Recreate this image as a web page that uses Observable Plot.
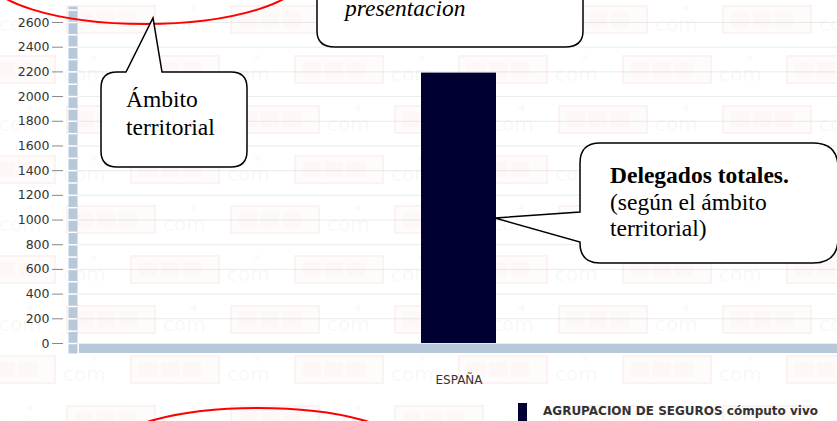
<!DOCTYPE html>
<html>
<head>
<meta charset="utf-8">
<script src="https://cdn.jsdelivr.net/npm/d3@7"></script>
<script src="https://cdn.jsdelivr.net/npm/@observablehq/plot@0.6"></script>
<style>
  html, body { margin: 0; padding: 0; background: white; }
  #wrap { position: relative; width: 837px; height: 421px; overflow: hidden; }
  #bg { position: absolute; left: 0; top: 0; width: 837px; height: 421px; opacity: 0.28; }
  #chart { position: absolute; left: 0; top: 0; }
  #overlay { position: absolute; left: 0; top: 0; }
  #legend { position: absolute; left: 518px; top: 403px; display: flex; align-items: flex-start;
            font-family: "DejaVu Sans", Verdana, sans-serif; font-weight: bold; font-size: 12px; color: #333; }
  #legend .sw { width: 9px; height: 18px; background: #000033; margin-right: 16px; }
  #legend .tx { margin-top: 1px; white-space: nowrap; }
</style>
</head>
<body>
<div id="wrap">
  <div id="bg"></div>
  <div id="chart"></div>
  <svg id="overlay" width="837" height="421" xmlns="http://www.w3.org/2000/svg">
    <ellipse cx="145" cy="-26" rx="160" ry="50" fill="none" stroke="#ff0000" stroke-width="2"/>
    <ellipse cx="258" cy="448" rx="146" ry="40" fill="none" stroke="#ff0000" stroke-width="2"/>
    <path d="M317,-10 L317,31 Q317,47 335,47 L565,47 Q583,47 583,31 L583,-10 Z" fill="white" stroke="black" stroke-width="1.5"/>
    <text x="345" y="16" font-family="Liberation Serif, Times New Roman, serif" font-style="italic" font-size="23.5">presentacion</text>
    <path d="M117,72 L126,72 L153,18 L162,72 L231,72 Q247,72 247,88 L247,151 Q247,167 231,167 L117,167 Q101,167 101,151 L101,88 Q101,72 117,72 Z" fill="white" stroke="black" stroke-width="1.5"/>
    <text font-family="Liberation Serif, Times New Roman, serif" font-size="23.5">
      <tspan x="126" y="107">Ámbito</tspan>
      <tspan x="126" y="135">territorial</tspan>
    </text>
    <path d="M600,143 L813,143 Q838,143 838,168 L838,238 Q838,263 813,263 L600,263 Q580,263 580,243 L580,242 L495,218 L580,212 L580,163 Q580,143 600,143 Z" fill="white" stroke="black" stroke-width="1.5"/>
    <text font-family="Liberation Serif, Times New Roman, serif" font-size="23.5">
      <tspan x="610" y="183" font-weight="bold">Delegados totales.</tspan>
      <tspan x="610" y="210">(según el ámbito</tspan>
      <tspan x="610" y="236">territorial)</tspan>
    </text>
  </svg>
  <div id="legend"><div class="sw"></div><div class="tx">AGRUPACION DE SEGUROS cómputo vivo</div></div>
</div>
<script>
// ---- data ----
const categories = ["ESPAÑA"];
const delegados = [2190];
const yTicks = [0, 200, 400, 600, 800, 1000, 1200, 1400, 1600, 1800, 2000, 2200, 2400, 2600];
const minorTicks = [0, 100, 200, 300, 400, 500, 600, 700, 800, 900, 1000, 1100, 1200, 1300,
                    1400, 1500, 1600, 1700, 1800, 1900, 2000, 2100, 2200, 2300, 2400, 2500, 2600, 2700];
const seriesName = "AGRUPACION DE SEGUROS cómputo vivo";

const table = categories.map((c, i) => ({ambito: c, delegados: delegados[i]}));

// ---- faint watermark background ----
const unit = (dx, dy) => `
  <g transform='translate(${dx},${dy})'>
    <text x='4' y='31' font-family='DejaVu Sans' font-size='20' fill='#e6e6e6'>com</text>
    <path d='M30 8 l8 -4 l-2 8 z' fill='#eeeeee'/>
    <rect x='72' y='6' width='88' height='27' fill='#fdf2f2' stroke='#f6d2d2' stroke-width='2'/>
    <rect x='80' y='12' width='18' height='15' fill='#fbe2e2'/>
    <rect x='102' y='12' width='18' height='15' fill='#fbe2e2'/>
    <rect x='124' y='12' width='18' height='15' fill='#fbe2e2'/>
  </g>`;
const tile = `<svg xmlns='http://www.w3.org/2000/svg' width='164' height='100'>${unit(0,0)}${unit(64,50)}${unit(-100,50)}</svg>`;
const bg = document.getElementById("bg");
bg.style.backgroundImage = `url("data:image/svg+xml,${encodeURIComponent(tile)}")`;
bg.style.backgroundPosition = "-5px 0px";

// ---- chart ----
const axisColor = "#b7c8da";
const chart = Plot.plot({
  width: 837,
  height: 421,
  marginTop: 6,
  marginBottom: 68,
  marginLeft: 72,
  marginRight: 0,
  style: {background: "transparent", fontFamily: "DejaVu Sans, Verdana, sans-serif", fontSize: "12px", color: "#333", overflow: "visible"},
  x: {domain: categories, range: [79, 837], padding: 0.82, label: null},
  y: {domain: [0, 2600], range: [343, 22], label: null},
  marks: [
    Plot.gridY({ticks: yTicks, stroke: "#d8d8d8", strokeOpacity: 0.5, insetLeft: 7}),
    Plot.frame({fill: axisColor, stroke: null, insetLeft: -4, insetRight: 837 - 72 - 5, insetBottom: 0}),
    Plot.ruleY([0], {stroke: axisColor, strokeWidth: 9, dy: 5, insetLeft: 7}),
    Plot.axisY({ticks: minorTicks, tickSize: 9, dx: 5, stroke: "white", strokeWidth: 1.5, strokeOpacity: 1, tickFormat: () => ""}),
    Plot.axisY({ticks: yTicks, tickSize: 11, dx: -9, tickPadding: 3, stroke: "#888", strokeOpacity: 1, fill: "#333", fontSize: 12.5, tickFormat: d3.format("d")}),
    Plot.barY(table, {x: "ambito", y: "delegados", fill: "#000033"}),
    Plot.axisX({tickSize: 0, tickPadding: 22, fontSize: 12, fill: "#333"})
  ]
});
document.getElementById("chart").appendChild(chart);
document.querySelector("#legend .tx").textContent = seriesName;
</script>
</body>
</html>
